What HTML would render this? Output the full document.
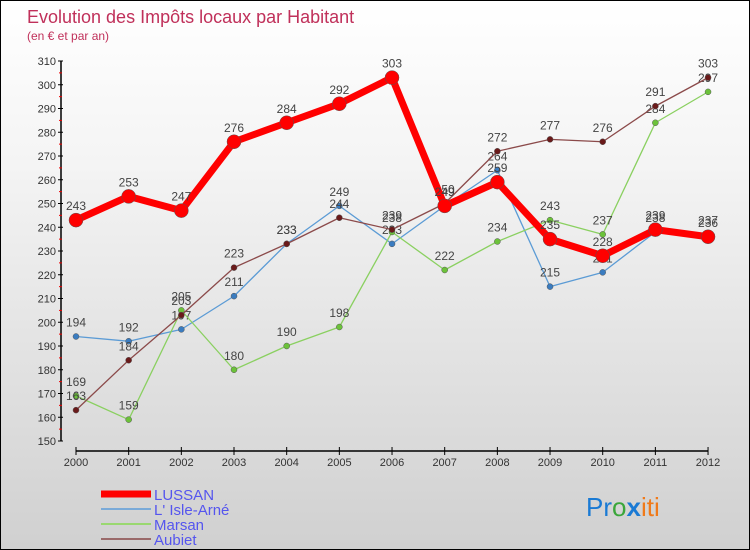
<!DOCTYPE html>
<html><head><meta charset="utf-8"><style>
body{margin:0}
#wrap{width:748px;height:548px;border:1px solid #000;background:linear-gradient(#fff,#f4f4f4 30%,#d0d0d0);position:relative;overflow:hidden;font-family:"Liberation Sans",sans-serif}
svg text{font-family:"Liberation Sans",sans-serif}
</style></head><body>
<div id="wrap">
<svg id="chart" width="748" height="548">
<text x="26" y="22" font-size="18" fill="#c0305a">Evolution des Impôts locaux par Habitant</text>
<text x="26" y="39" font-size="12" fill="#c0305a">(en € et par an)</text>
<g id="axes"></g><g id="series"></g><g id="legend"></g>
<text x="585" y="515" font-size="26"><tspan fill="#1a7ad4">Pr</tspan><tspan fill="#3aa63a">o</tspan><tspan fill="#1a7ad4" font-weight="bold">x</tspan><tspan fill="#f07a1a">iti</tspan></text>
</svg></div>
<script>
const years=[2000,2001,2002,2003,2004,2005,2006,2007,2008,2009,2010,2011,2012];
const yTicks=[150,160,170,180,190,200,210,220,230,240,250,260,270,280,290,300,310];
const lussan=[243,253,247,276,284,292,303,249,259,235,228,239,236];
const isle=[194,192,197,211,233,249,233,249,264,215,221,238,237];
const marsan=[169,159,205,180,190,198,238,222,234,243,237,284,297];
const aubiet=[163,184,203,223,233,244,239,250,272,277,276,291,303];
const NS="http://www.w3.org/2000/svg";
const X=i=>75+i*52.67, Y=v=>440-(v-150)*2.375;
function mk(t,a,p){const e=document.createElementNS(NS,t);for(const k in a)e.setAttribute(k,a[k]);(p||document.getElementById('axes')).appendChild(e);return e;}
let e=mk('line',{x1:60,y1:Y(310),x2:60,y2:440,stroke:'#000','stroke-width':1.5});


e=mk('line',{x1:X(0),y1:450,x2:X(12),y2:450,stroke:'#000','stroke-width':1.5});


yTicks.forEach(v=>{mk('line',{x1:57,y1:Y(v),x2:62,y2:Y(v),stroke:'#000'});
mk('line',{x1:58,y1:Y(v+5),x2:61,y2:Y(v+5),stroke:v<310?'#e00':'none'});
const t=mk('text',{x:55,y:Y(v)+4,'font-size':11,'text-anchor':'end',fill:'#333'});t.textContent=v;

});
years.forEach((y,i)=>{mk('line',{x1:X(i),y1:446,x2:X(i),y2:454,stroke:'#000'});
const t=mk('text',{x:X(i),y:465,'font-size':11,'text-anchor':'middle',fill:'#333'});t.textContent=y;

});
const sg=document.getElementById('series');
const series=[[isle,'#5b9bd5',1.3,'#3a7cc0',3,'l-isle-arne'],[marsan,'#8ad060',1.3,'#6cc23a',3,'marsan'],[aubiet,'#8b4a4a',1.3,'#6a1a1a',3,'aubiet'],[lussan,'#f00',7,'#f00',7,'lussan']];
series.forEach(([d,c,w,mc,r,n])=>{
const p=mk('polyline',{points:d.map((v,i)=>X(i)+','+Y(v)).join(' '),fill:'none',stroke:c,'stroke-width':w,'stroke-linejoin':'round'},sg);


d.forEach((v,i)=>{const m=mk('circle',{cx:X(i),cy:Y(v),r:r,fill:mc,stroke:'#555','stroke-width':0.5},sg);


const t=mk('text',{x:X(i),y:Y(v)-10,'font-size':12,'text-anchor':'middle',fill:'#444'},sg);t.textContent=v;

});});
const lg=document.getElementById('legend');
[['LUSSAN','#f00',7],["L' Isle-Arné",'#7aaad8',2],['Marsan','#9ad870',2],['Aubiet','#9a6a6a',2]].forEach(([n,c,w],i)=>{
const y=493+i*15;
mk('line',{x1:100,y1:y,x2:150,y2:y,stroke:c,'stroke-width':w},lg);
const t=mk('text',{x:153,y:y+6,'font-size':15,fill:'#5555ee'},lg);t.textContent=n;

});
</script>
</body></html>
